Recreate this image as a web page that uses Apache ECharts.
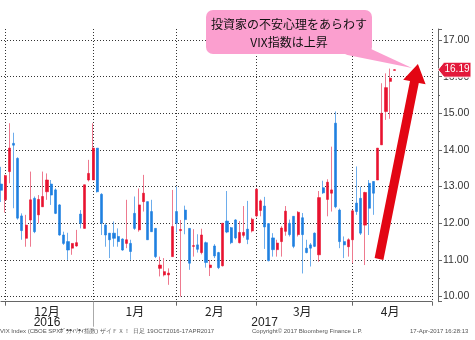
<!DOCTYPE html>
<html><head><meta charset="utf-8">
<script src="https://cdn.jsdelivr.net/npm/echarts@6/dist/echarts.min.js"></script>
<style>html,body{margin:0;padding:0;background:#fff}#c{width:475px;height:340px}</style>
</head><body><div id="c"></div>
<script>
const dates = [
 '2016-11-29','2016-11-30',
 '2016-12-01','2016-12-02','2016-12-05','2016-12-06','2016-12-07','2016-12-08','2016-12-09','2016-12-12','2016-12-13','2016-12-14','2016-12-15','2016-12-16','2016-12-19','2016-12-20','2016-12-21','2016-12-22','2016-12-23','2016-12-27','2016-12-28','2016-12-29','2016-12-30',
 '2017-01-03','2017-01-04','2017-01-05','2017-01-06','2017-01-09','2017-01-10','2017-01-11','2017-01-12','2017-01-13','2017-01-17','2017-01-18','2017-01-19','2017-01-20','2017-01-23','2017-01-24','2017-01-25','2017-01-26','2017-01-27','2017-01-30','2017-01-31',
 '2017-02-01','2017-02-02','2017-02-03','2017-02-06','2017-02-07','2017-02-08','2017-02-09','2017-02-10','2017-02-13','2017-02-14','2017-02-15','2017-02-16','2017-02-17','2017-02-21','2017-02-22','2017-02-23','2017-02-24','2017-02-27','2017-02-28',
 '2017-03-01','2017-03-02','2017-03-03','2017-03-06','2017-03-07','2017-03-08','2017-03-09','2017-03-10','2017-03-13','2017-03-14','2017-03-15','2017-03-16','2017-03-17','2017-03-20','2017-03-21','2017-03-22','2017-03-23','2017-03-24','2017-03-27','2017-03-28','2017-03-29','2017-03-30','2017-03-31',
 '2017-04-03','2017-04-04','2017-04-05','2017-04-06','2017-04-07','2017-04-10','2017-04-11','2017-04-12','2017-04-13','2017-04-17'
];
const openV = [13.07,12.64,13.41,14.18,13.77,12.20,11.59,12.09,12.68,12.23,12.45,12.86,13.07,12.91,12.50,11.68,11.50,11.32,11.38,12.25,11.86,13.18,13.18,
 14.05,12.79,11.95,11.73,11.73,11.64,11.57,11.45,11.45,12.27,11.82,12.59,12.59,12.32,11.86,10.77,10.59,10.59,11.09,12.32,
 11.80,12.36,11.86,11.37,11.41,11.20,11.47,10.79,11.38,11.20,10.84,12.06,11.88,12.09,11.47,11.67,11.84,11.79,12.20,
 12.35,12.47,11.99,11.60,11.28,11.50,11.78,12.00,12.19,11.69,12.15,11.32,11.41,11.73,11.14,12.97,12.65,12.82,14.73,12.36,11.50,11.36,11.55,
 12.55,12.68,11.95,13.09,13.14,13.18,14.14,15.05,15.87,16.17];
const closeV = [12.90,13.30,14.05,14.13,12.14,11.80,11.95,12.64,11.77,12.65,12.73,13.18,12.77,12.27,11.68,11.45,11.27,11.45,11.47,12.00,13.05,13.36,14.05,
 12.86,12.00,11.68,11.55,11.59,11.50,11.27,11.55,11.23,11.86,12.50,12.82,11.55,11.77,11.09,10.86,10.68,10.64,11.91,12.00,
 11.83,12.10,10.91,11.39,11.29,11.68,10.93,10.86,11.11,10.79,12.00,11.76,11.47,11.60,11.75,11.75,11.56,12.11,12.93,
 12.61,11.90,10.98,11.28,11.46,11.87,12.33,11.69,11.37,12.30,11.69,11.20,11.32,11.37,12.70,12.83,13.12,12.91,12.45,11.50,11.41,11.55,12.34,
 12.32,11.73,12.84,12.41,12.82,14.05,15.00,15.70,15.96,16.19];
const lowV = [12.58,12.29,13.09,12.41,12.10,11.55,11.36,11.36,11.73,12.00,12.45,12.64,12.50,12.25,11.66,11.41,11.00,11.14,11.36,11.86,11.86,13.14,13.18,
 12.84,11.68,11.36,11.05,11.36,11.36,11.25,11.32,11.00,11.82,11.77,12.32,11.55,11.77,11.05,10.55,10.55,10.32,11.09,11.75,
 10.00,11.70,10.73,11.09,11.20,11.15,10.79,10.56,11.05,10.75,10.82,11.73,11.43,11.56,11.45,11.61,11.43,11.75,12.16,
 12.19,11.30,10.96,11.09,11.09,11.09,11.66,11.64,11.32,11.64,10.63,11.18,10.82,11.35,10.95,12.80,12.19,12.32,12.41,11.32,11.05,11.09,10.91,
 12.23,11.68,10.86,11.68,12.23,13.18,14.14,14.82,14.85,16.17];
const highV = [13.54,13.32,14.73,14.47,13.80,12.27,12.23,13.41,12.73,12.77,13.41,13.36,13.18,12.95,12.52,11.77,11.74,11.45,11.82,12.36,13.05,13.73,14.73,
 14.05,12.82,12.00,11.73,12.05,11.86,11.59,12.64,11.55,12.73,12.95,13.32,12.59,12.64,11.86,11.09,11.05,10.77,12.91,13.00,
 12.09,12.48,11.86,11.84,11.70,11.85,11.50,11.00,11.43,11.22,12.00,12.88,11.90,12.11,12.06,12.47,12.61,12.15,12.95,
 12.65,12.72,12.00,11.73,11.55,11.92,12.47,12.10,12.19,12.33,12.28,11.55,11.46,11.75,12.88,13.16,13.20,14.09,15.05,12.40,11.64,11.59,12.36,
 13.55,13.00,12.86,13.18,13.14,14.05,15.82,16.09,16.22,16.20];

const padSlots = 9;
const cats = dates.concat(Array.from({length: padSlots}, () => ''));
const lastIdx = cats.length - 1;

// month boundaries (last trading day of each month) derived from dates
const bounds = [];
for (let i = 0; i < dates.length - 1; i++) {
  if (dates[i].slice(0, 7) !== dates[i + 1].slice(0, 7)) bounds.push(i);
}
bounds.push(lastIdx);
const bset = new Set(bounds);
const monthLabel = {};
for (let k = 0; k < bounds.length - 1; k++) {
  const mid = Math.floor((bounds[k] + bounds[k + 1]) / 2);
  monthLabel[mid] = parseInt(dates[bounds[k] + 1].slice(5, 7), 10) + '月';
}
let yearSep = -1;
for (let i = 0; i < dates.length - 1; i++) {
  if (dates[i].slice(0, 4) !== dates[i + 1].slice(0, 4)) yearSep = i;
}
const monthMids = Object.keys(monthLabel).map(Number);
const yearLabel = {};
yearLabel[monthMids[0]] = dates[bounds[0] + 1].slice(0, 4);
yearLabel[yearSep + 41] = dates[yearSep + 1].slice(0, 4);

const full = dates.map((d, i) => [openV[i], closeV[i], lowV[i], highV[i]]);
const body = dates.map((d, i) => [openV[i], closeV[i], Math.min(openV[i], closeV[i]), Math.max(openV[i], closeV[i])]);

const dotted = {color: '#333', width: 1, type: [1, 2]};
const chart = echarts.init(document.getElementById('c'), null, {renderer: 'canvas'});
const option = {
  animation: false,
  backgroundColor: '#fff',
  grid: {left: 1, right: 43, top: 29, bottom: 38.3},
  xAxis: [{
    type: 'category', data: cats, boundaryGap: false,
    axisLine: {show: true, lineStyle: {color: '#666'}},
    axisTick: {show: true, interval: (i) => bset.has(i), length: 4, lineStyle: {color: '#666'}},
    axisLabel: {interval: (i) => monthLabel[i] !== undefined, formatter: (v, i) => monthLabel[i] || '',
      margin: 4, fontSize: 12, color: '#222', fontFamily: 'Noto Sans CJK JP'},
    splitLine: {show: true, interval: (i) => bset.has(i), lineStyle: dotted}
  }, {
    type: 'category', data: cats, boundaryGap: false, position: 'bottom', offset: 0,
    axisLine: {show: false},
    axisTick: {show: true, interval: (i) => i === yearSep, length: 25, lineStyle: {color: '#aaa'}},
    axisLabel: {interval: (i) => yearLabel[i] !== undefined, formatter: (v, i) => yearLabel[i] || '',
      margin: 15, fontSize: 12, color: '#222', fontFamily: 'Liberation Sans'},
    splitLine: {show: false}
  }],
  yAxis: {
    type: 'value', position: 'right', offset: 6, min: 9.86, max: 17.3, splitNumber: 7,
    axisLine: {show: true, lineStyle: {color: '#666'}},
    axisTick: {show: true, length: 4, lineStyle: {color: '#666'}},
    minorTick: {show: true, splitNumber: 2, length: 2, lineStyle: {color: '#666'}},
    axisLabel: {margin: 5, color: '#333', fontSize: 10.5, fontFamily: 'Liberation Sans',
      showMinLabel: false, showMaxLabel: false,
      formatter: (v) => Math.abs(v - Math.round(v)) < 1e-6 ? v.toFixed(2) : ''},
    splitLine: {show: true, showMinLine: false, showMaxLine: false, lineStyle: dotted}
  },
  series: [{
    type: 'candlestick', name: 'wick', data: full, barWidth: 1,
    itemStyle: {color: '#ee7a8f', color0: '#6dadec', borderColor: '#ee7a8f', borderColor0: '#6dadec', borderWidth: 1}
  }, {
    type: 'candlestick', name: 'body', data: body, barWidth: 2.6,
    itemStyle: {color: '#e8122f', color0: '#1f80e0', borderColor: '#e8122f', borderColor0: '#1f80e0', borderWidth: 0.6}
  }]
};
chart.setOption(option);

const lastPrice = closeV[closeV.length - 1];
const py = chart.convertToPixel({yAxisIndex: 0}, lastPrice);
const foot = {fontSize: 6, fontFamily: 'Liberation Sans', fill: '#555', verticalAlign: 'middle'};
chart.setOption({graphic: [
  {type: 'polygon', z: 100, shape: {points: [[345, 54.5], [371, 49], [412, 68]]}, style: {fill: '#fb9fcf'}},
  {type: 'rect', z: 100, shape: {x: 206, y: 10, width: 166, height: 44, r: 7}, style: {fill: '#fb9fcf'}},
  {type: 'text', z: 101, style: {x: 289, y: 24, text: '投資家の不安心理をあらわす', fontSize: 12, fontFamily: 'Noto Sans CJK JP', fill: '#111', align: 'center', verticalAlign: 'middle'}},
  {type: 'text', z: 101, style: {x: 289, y: 42, text: 'VIX指数は上昇', fontSize: 12, fontFamily: 'Noto Sans CJK JP', fill: '#111', align: 'center', verticalAlign: 'middle'}},
  {type: 'polygon', z: 102, shape: {points: [[374.6, 258.1], [383.4, 259.9], [418.8, 82.9], [425.6, 84.3], [417.9, 64], [403.2, 79.8], [410, 81.1]]}, style: {fill: '#e30613'}},
  {type: 'polygon', z: 103, shape: {points: [[438, py], [444, py - 7.5], [471, py - 7.5], [471, py + 7.5], [444, py + 7.5]]}, style: {fill: '#e3193b', stroke: '#fff', lineWidth: 1}},
  {type: 'text', z: 104, style: {x: 457, y: py, text: lastPrice.toFixed(2), fontSize: 10, fontFamily: 'Liberation Sans', fill: '#fff', align: 'center', verticalAlign: 'middle'}},
  {type: 'text', z: 100, style: Object.assign({x: 0, y: 331, text: 'VIX Index (CBOE SPXﾎﾞﾗﾃｨﾘﾃｨ指数) ザイＦＸ！  日足 19OCT2016-17APR2017'}, foot)},
  {type: 'text', z: 100, style: Object.assign({x: 252, y: 331, text: 'Copyright© 2017 Bloomberg Finance L.P.'}, foot)},
  {type: 'text', z: 100, style: Object.assign({x: 410, y: 331, text: '17-Apr-2017 16:28:13'}, foot)}
]});
</script>
</body></html>
